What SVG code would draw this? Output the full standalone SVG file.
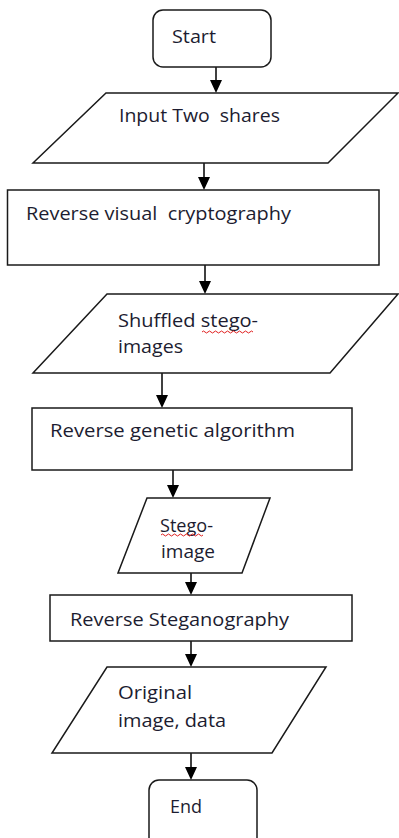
<svg xmlns="http://www.w3.org/2000/svg" width="399" height="838" viewBox="0 0 399 838">
<defs>
<style>
.shape{fill:#fff;stroke:#1a1a1a;stroke-width:1.5}
.t{font-family:"Open Sans","Liberation Sans",Arial,sans-serif;font-size:18.5px;fill:#1c1c30}
.c{stroke:#000;stroke-width:1.5;fill:none}
.w{stroke:#e02020;stroke-width:1;fill:none}
</style>
</defs>
<rect width="399" height="838" fill="#fff"/>
<g id="connectors">
<line class="c" x1="216" y1="67" x2="216" y2="82"/>
<line class="c" x1="204" y1="163" x2="204" y2="179"/>
<line class="c" x1="205" y1="265" x2="205" y2="283"/>
<line class="c" x1="162" y1="373" x2="162" y2="397"/>
<line class="c" x1="173" y1="470" x2="173" y2="487"/>
<line class="c" x1="191" y1="573" x2="191" y2="584"/>
<line class="c" x1="191" y1="641" x2="191" y2="656"/>
<line class="c" x1="191" y1="753" x2="191" y2="769"/>
<path d="M210,80 L222,80 L216,93 Z M198,177 L210,177 L204,190 Z M199,281 L211,281 L205,294 Z M156,395 L168,395 L162,408 Z M167,485 L179,485 L173,498 Z M185,582 L197,582 L191,595 Z M185,654 L197,654 L191,667 Z M185,767 L197,767 L191,780 Z" fill="#000"/>
</g>
<g id="start">
<rect class="shape" x="153" y="10" width="118" height="57" rx="10"/>
<text class="t" x="172" y="43" textLength="44" lengthAdjust="spacingAndGlyphs">Start</text>
</g>
<g id="input">
<polygon class="shape" points="106,93 398,93 328,163 33,163"/>
<text class="t" x="119" y="122" textLength="161" lengthAdjust="spacingAndGlyphs" xml:space="preserve">Input Two  shares</text>
</g>
<g id="rvc">
<rect class="shape" x="7.5" y="190" width="371.5" height="75"/>
<text class="t" x="26" y="220" textLength="265" lengthAdjust="spacingAndGlyphs" xml:space="preserve">Reverse visual  cryptography</text>
</g>
<g id="shuffled">
<polygon class="shape" points="107,294 398,294 330,373 33,373"/>
<text class="t" x="118" y="327" textLength="140" lengthAdjust="spacingAndGlyphs">Shuffled stego-</text>
<text class="t" x="118" y="353" textLength="65" lengthAdjust="spacingAndGlyphs">images</text>
<path class="w" d="M202,332 q1.5,-2 3,0 t3,0 t3,0 t3,0 t3,0 t3,0 t3,0 t3,0 t3,0 t3,0 t3,0 t3,0 t3,0 t3,0 t3,0 t3,0 t3,0"/>
</g>
<g id="rga">
<rect class="shape" x="32" y="408" width="320" height="62"/>
<text class="t" x="50" y="437" textLength="245" lengthAdjust="spacingAndGlyphs">Reverse genetic algorithm</text>
</g>
<g id="stego">
<polygon class="shape" points="147,498 270,498 242,573 118,573"/>
<text class="t" x="160" y="532" textLength="53" lengthAdjust="spacingAndGlyphs">Stego-</text>
<text class="t" x="161" y="558" textLength="54" lengthAdjust="spacingAndGlyphs">image</text>
<path class="w" d="M161,535 q1.5,-2 3,0 t3,0 t3,0 t3,0 t3,0 t3,0 t3,0 t3,0 t3,0 t3,0 t3,0 t3,0 t3,0 t3,0"/>
</g>
<g id="rs">
<rect class="shape" x="50" y="595" width="302" height="46"/>
<text class="t" x="70" y="626" textLength="219" lengthAdjust="spacingAndGlyphs">Reverse Steganography</text>
</g>
<g id="original">
<polygon class="shape" points="107,667 326,667 272,753 52,753"/>
<text class="t" x="118" y="699" textLength="74" lengthAdjust="spacingAndGlyphs">Original</text>
<text class="t" x="118" y="727" textLength="108" lengthAdjust="spacingAndGlyphs">image, data</text>
</g>
<g id="end">
<rect class="shape" x="149" y="780" width="108" height="70" rx="10"/>
<text class="t" x="170" y="813" textLength="32" lengthAdjust="spacingAndGlyphs">End</text>
</g>
</svg>
